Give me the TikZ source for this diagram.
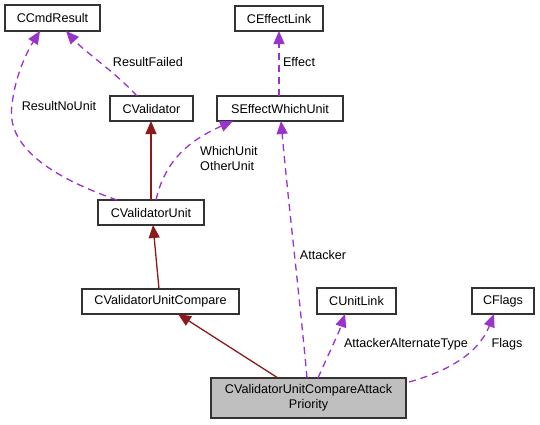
\documentclass[tikz,border=0pt]{standalone}
\usepackage{fontspec}
\setmainfont{Liberation Sans}
\usetikzlibrary{arrows.meta}
\definecolor{edgepurple}{HTML}{9A32CD}
\definecolor{edgered}{HTML}{8B1A1A}
\definecolor{nodegray}{HTML}{BFBFBF}
\begin{document}
\begin{tikzpicture}[x=1pt,y=-1pt,
  box/.style={draw=black!80, line width=1.3pt, fill=white, inner sep=0pt, font=\fontsize{12.6}{15}\selectfont, align=center},
  lbl/.style={inner sep=0pt, font=\fontsize{12.6}{15}\selectfont, align=left},
  uses/.style={draw=edgepurple, line width=1.3pt, dash pattern=on 7pt off 5pt, -{Triangle[length=13pt,width=11pt]}},
  inherits/.style={draw=edgered, line width=1.3pt, -{Triangle[length=13pt,width=11pt]}}]
\useasboundingbox (0,0) rectangle (540,424);
\fill[white] (0,0) rectangle (540,424);
\node[box, minimum width=95pt, minimum height=26pt] (cmd) at (52.5,18) {CCmdResult};
\node[box, minimum width=88pt, minimum height=25pt] (efl) at (279,18.5) {CEffectLink};
\node[box, minimum width=83pt, minimum height=25pt] (val) at (151.5,108.5) {CValidator};
\node[box, minimum width=126pt, minimum height=25pt] (ewu) at (280,108.5) {SEffectWhichUnit};
\node[box, minimum width=106pt, minimum height=25pt] (vu) at (151,212.5) {CValidatorUnit};
\node[box, minimum width=157pt, minimum height=25pt] (vuc) at (160.5,301.5) {CValidatorUnitCompare};
\node[box, minimum width=79pt, minimum height=26pt] (ul) at (356.5,301) {CUnitLink};
\node[box, minimum width=62pt, minimum height=26pt] (fl) at (503,301) {CFlags};
\node[box, fill=nodegray, minimum width=195pt, minimum height=40pt] (main) at (308.5,398) {CValidatorUnitCompareAttack\\Priority};
% coordinates for edge ends
\coordinate (valtop) at (137,96);
\coordinate (cmdR) at (66,31);
\coordinate (vutopL) at (117,200);
\coordinate (cmdL) at (40,31);
\coordinate (vutopC) at (151,200);
\coordinate (valbot) at (151,121);
\coordinate (vutopR) at (156,200);
\coordinate (ewubotL) at (233,121);
\coordinate (ewutop) at (279,96);
\coordinate (efltop) at (279,31);
\coordinate (vucbot) at (153,225);
\coordinate (vuctop) at (159,289);
\coordinate (maintopA) at (278,378);
\coordinate (vucbotR) at (178,314);
\coordinate (maintopB) at (307,378);
\coordinate (ewubot) at (281,121);
\coordinate (maintopC) at (318,378);
\coordinate (ulbot) at (345,314);
\coordinate (mainR) at (409,382);
\coordinate (flbot) at (494,314);
% edges
\draw[uses] (valtop) .. controls (115,72) and (85,52) .. (cmdR);
\draw[uses] (vutopL) .. controls (60,180) and (5,150) .. (12,105) .. controls (15,75) and (28,50) .. (cmdL);
\draw[inherits] (vutopC) -- (valbot);
\draw[uses] (vutopR) .. controls (165,160) and (190,140) .. (ewubotL);
\draw[uses] (ewutop) -- (efltop);
\draw[inherits] (vuctop) -- (vucbot);
\draw[inherits] (maintopA) -- (vucbotR);
\draw[uses] (maintopB) .. controls (300,300) and (288,200) .. (ewubot);
\draw[uses] (maintopC) .. controls (328,355) and (338,335) .. (ulbot);
\draw[uses] (mainR) .. controls (445,372) and (478,355) .. (flbot);
% labels
\node[lbl] (lrf) at (148,62) {ResultFailed};
\node[lbl] (lrn) at (59,106) {ResultNoUnit};
\node[lbl, anchor=west] (lwu) at (200,158) {WhichUnit\\OtherUnit};
\node[lbl] (lef) at (299,62) {Effect};
\node[lbl] (lat) at (323,255) {Attacker};
\node[lbl] (laa) at (406,344) {AttackerAlternateType};
\node[lbl] (lfl) at (507,344) {Flags};
\end{tikzpicture}
\end{document}
